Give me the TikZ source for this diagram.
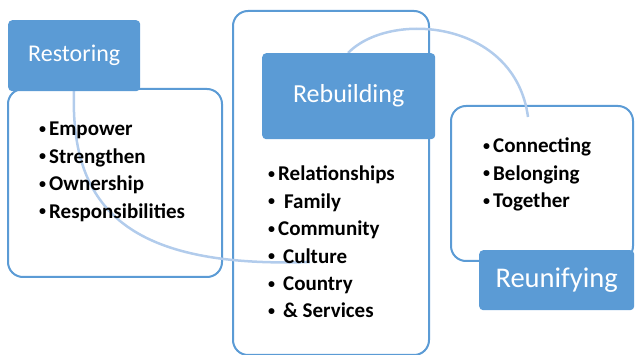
\documentclass[tikz,border=0pt]{standalone}
\usepackage{fontspec}
\setmainfont{Carlito}
\usepackage{xcolor}
\usepackage{tikz}
\usetikzlibrary{positioning}
\definecolor{blu}{RGB}{91,155,213}
\definecolor{arcblu}{RGB}{178,204,236}
\newcommand{\bul}{\raisebox{2.5pt}{\fontsize{14}{14}\selectfont\textbullet}\hspace{3pt}}

\begin{document}
\begin{tikzpicture}[x=1pt,y=-1pt,
    frame/.style={draw=blu,line width=2pt,rounded corners=15pt,anchor=north west,inner sep=0pt},
    tag/.style={fill=blu,rounded corners=4pt,text=white,anchor=north west,inner sep=0pt},
    list/.style={align=left,anchor=north west,inner sep=0pt,
      font=\fontsize{21}{27.4}\selectfont\bfseries},
    link/.style={draw=arcblu,line width=2.5pt}]
    \useasboundingbox (0,0) rectangle (635,355);
    \node[frame,minimum width=214pt,minimum height=188pt] (L) at (7,88) {};
    \node[frame,minimum width=196pt,minimum height=344pt] (M) at (232,10) {};
    \node[frame,minimum width=182pt,minimum height=155pt] (R) at (450,105) {};
    \coordinate (e1) at (310,262);
    \coordinate (e2) at (528,117);
    \coordinate (s1) at (74,91);
    \coordinate (s2) at (348,53);
    \path[link] (s1) .. controls (70,210) and (130,268) .. (e1);
    \path[link] (s2) .. controls (390,10) and (515,20) .. (e2);
    \node[tag,minimum width=132pt,minimum height=71pt,font=\fontsize{24}{28}\selectfont] (Rest) at (8,20) {Restoring};
    \node[tag,minimum width=173pt,minimum height=86pt,font=\fontsize{26}{30}\selectfont] (Rebuild) at (262,53) {Rebuilding};
    \node[tag,minimum width=155pt,minimum height=60pt,font=\fontsize{28.5}{32}\selectfont] (Reunify) at (479,250) {Reunifying};
    \node[list] (LL) at (39,122) {\bul Empower\\ \bul Strengthen\\ \bul Ownership\\ \bul Responsibilities};
    \node[list] (ML) at (268,166) {\bul Relationships\\ \bul\hspace{6pt}Family\\ \bul Community\\
      \bul\hspace{5pt}Culture\\ \bul\hspace{5pt}Country\\ \bul\hspace{5pt}\& Services};
    \node[list] (RL) at (483,138) {\bul Connecting\\ \bul Belonging\\ \bul Together};
  \end{tikzpicture}
\end{document}
